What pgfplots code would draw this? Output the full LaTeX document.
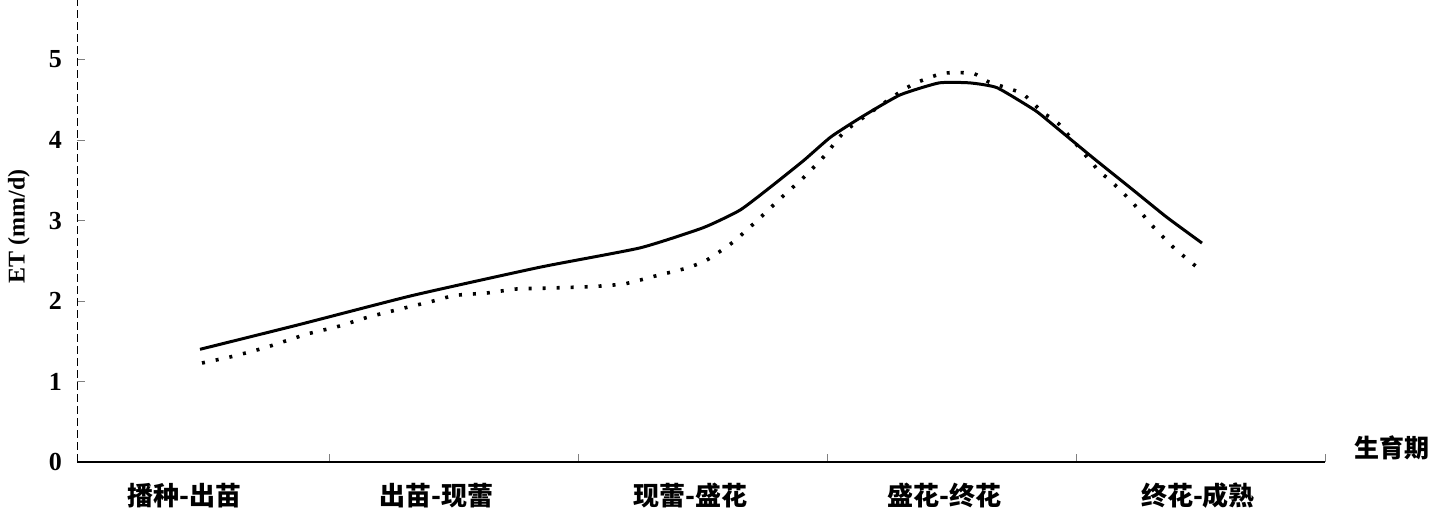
\documentclass[border=0pt]{standalone}
\usepackage{fontspec}
\setmainfont{Liberation Serif}
\newfontfamily\cjk{Noto Sans CJK SC}
\usepackage{pgfplots}
\pgfplotsset{compat=1.18}
\begin{document}
\begin{tikzpicture}
\useasboundingbox (-38.5pt,-25.5pt) rectangle (677.5pt,231pt);
\begin{axis}[
  at={(0,0)}, anchor=south west,
  scale only axis, width=624pt, height=231pt,
  xmin=-0.012, xmax=5, ymin=0, ymax=5.74,
  axis x line*=bottom, axis y line*=left,
  x axis line style={line width=1pt},
  y axis line style={thin, dash pattern=on 4pt off 2pt},
  tick align=inside,
  xtick={1,2,3,4,5}, xticklabels={},
  major tick length=4pt,
  extra x ticks={0.42,1.43,2.45,3.47,4.49},
  extra x tick labels={播种-出苗,出苗-现蕾,现蕾-盛花,盛花-终花,终花-成熟},
  extra x tick style={major tick length=0pt, xticklabel style={font=\cjk\bfseries\fontsize{13}{13}\selectfont, yshift=-7pt}},
  ytick={0,1,2,3,4,5},
  ytick style={thin},
  yticklabel style={font=\bfseries\fontsize{13}{13}\selectfont, xshift=-4pt},
  /pgf/number format/assume math mode=true,
  ylabel={ET (mm/d)},
  ylabel style={font=\bfseries\fontsize{12}{12}\selectfont, at={(axis description cs:-0.0465,0.51)}, anchor=center},
  xlabel={生育期},
  xlabel style={font=\cjk\bfseries\fontsize{12.5}{12.5}\selectfont, at={(axis description cs:1,0)}, anchor=west, xshift=11pt, yshift=7pt},
  clip=false,
]
\addplot[black, line width=1.5pt, smooth, tension=0.3] coordinates {
(0.482,1.40) (0.884,1.71) (1.337,2.07) (1.847,2.42) (2.249,2.66)
(2.502,2.91) (2.651,3.13) (2.783,3.44) (2.908,3.75) (3.016,4.04)
(3.141,4.29) (3.293,4.56) (3.450,4.71) (3.574,4.71) (3.683,4.65)
(3.835,4.37) (3.896,4.22) (4.068,3.78) (4.229,3.38) (4.365,3.04) (4.506,2.72)
};
\addplot[black, line width=1.8pt, dash pattern=on 1.5pt off 5.5pt, smooth, tension=0.3] coordinates {
(0.490,1.23) (0.610,1.31) (0.743,1.42) (0.912,1.59) (1.032,1.68)
(1.157,1.80) (1.285,1.90) (1.406,1.99) (1.506,2.07) (1.635,2.10)
(1.755,2.15) (1.876,2.16) (2.060,2.18) (2.181,2.21) (2.249,2.26)
(2.309,2.31) (2.438,2.41) (2.518,2.51) (2.622,2.73) (2.723,3.01)
(2.815,3.28) (2.908,3.54) (2.992,3.81) (3.076,4.12) (3.285,4.58)
(3.357,4.71) (3.466,4.83) (3.586,4.83) (3.651,4.72) (3.783,4.58)
(3.867,4.34) (3.928,4.21) (4.088,3.63) (4.137,3.50) (4.225,3.23)
(4.305,2.94) (4.390,2.67) (4.486,2.42)
};
\end{axis}
\end{tikzpicture}
\end{document}
